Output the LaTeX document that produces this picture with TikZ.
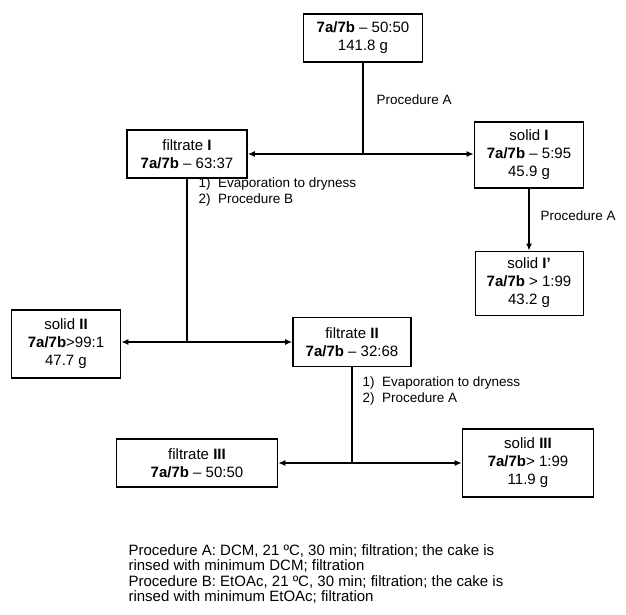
\documentclass[tikz,border=0pt]{standalone}
\usepackage{fontspec}
\setmainfont{Liberation Sans}
\usetikzlibrary{arrows.meta, positioning, calc}

\begin{document}
\begin{tikzpicture}[
    x=1pt, y=-1pt,
    box/.style={draw,line width=1.6pt,inner sep=0pt,align=center,
                font=\fontsize{15}{18}\selectfont},
    arr/.style={-{Latex[length=7pt,width=6pt]},line width=1.6pt},
    lbl/.style={anchor=west,align=left,font=\fontsize{13.5}{16}\selectfont}
]
  \useasboundingbox (0,0) rectangle (626,614);

  % Boxes
  \node[box,minimum width=119pt,minimum height=48pt] (start) at (363,38)
    {\textbf{7a/7b} -- 50:50\\141.8 g};
  \node[box,minimum width=120pt,minimum height=48pt] (filtI) at (187,154)
    {filtrate \textbf{I}\\\textbf{7a/7b} -- 63:37};
  \node[box,minimum width=109pt,minimum height=66pt] (solidI) at (529,155)
    {solid \textbf{I}\\\textbf{7a/7b} -- 5:95\\45.9 g};
  \node[box,line width=0.8pt,minimum width=108pt,minimum height=64pt] (solidIp) at (529,283)
    {solid \textbf{I’}\\\textbf{7a/7b} > 1:99\\43.2 g};
  \node[box,minimum width=109pt,minimum height=68pt] (solidII) at (66,344)
    {solid \textbf{II}\\\textbf{7a/7b}>99:1\\47.7 g};
  \node[box,minimum width=118pt,minimum height=49pt] (filtII) at (352,342)
    {filtrate \textbf{II}\\\textbf{7a/7b} -- 32:68};
  \node[box,minimum width=161pt,minimum height=48pt] (filtIII) at (197,463)
    {filtrate \textbf{III}\\\textbf{7a/7b} -- 50:50};
  \node[box,minimum width=131pt,minimum height=68pt] (solidIII) at (528,463)
    {solid \textbf{III}\\\textbf{7a/7b}> 1:99\\11.9 g};

  % Junctions
  \coordinate (j1) at (363,154);
  \coordinate (j2) at (187,342);
  \coordinate (j3) at (352,463);

  % Arrows
  \draw[line width=1.6pt] (start) -- (j1);
  \draw[arr] (j1) -- (filtI.east |- j1);
  \draw[arr] (j1) -- (solidI.west |- j1);
  \draw[arr] (solidI) -- (solidIp);
  \draw[line width=1.6pt] (filtI) -- (j2);
  \draw[arr] (j2) -- (solidII.east |- j2);
  \draw[arr] (j2) -- (filtII.west |- j2);
  \draw[line width=1.6pt] (filtII) -- (j3);
  \draw[arr] (j3) -- (filtIII.east |- j3);
  \draw[arr] (j3) -- (solidIII.west |- j3);

  % Labels
  \node[lbl] (procA1) at (373,100) {Procedure A};
  \node[lbl] (steps1) at (195,192) {1)\ \ Evaporation to dryness\\2)\ \ Procedure B};
  \node[lbl] (procA2) at (537,216) {Procedure A};
  \node[lbl] (steps2) at (359,391) {1)\ \ Evaporation to dryness\\2)\ \ Procedure A};

  % Footnote
  \node[anchor=north west,align=left,font=\fontsize{15}{15.5}\selectfont] (note) at (125,541)
    {Procedure A: DCM, 21 ºC, 30 min; filtration; the cake is\\
     rinsed with minimum DCM; filtration\\
     Procedure B: EtOAc, 21 ºC, 30 min; filtration; the cake is\\
     rinsed with minimum EtOAc; filtration};
\end{tikzpicture}
\end{document}
